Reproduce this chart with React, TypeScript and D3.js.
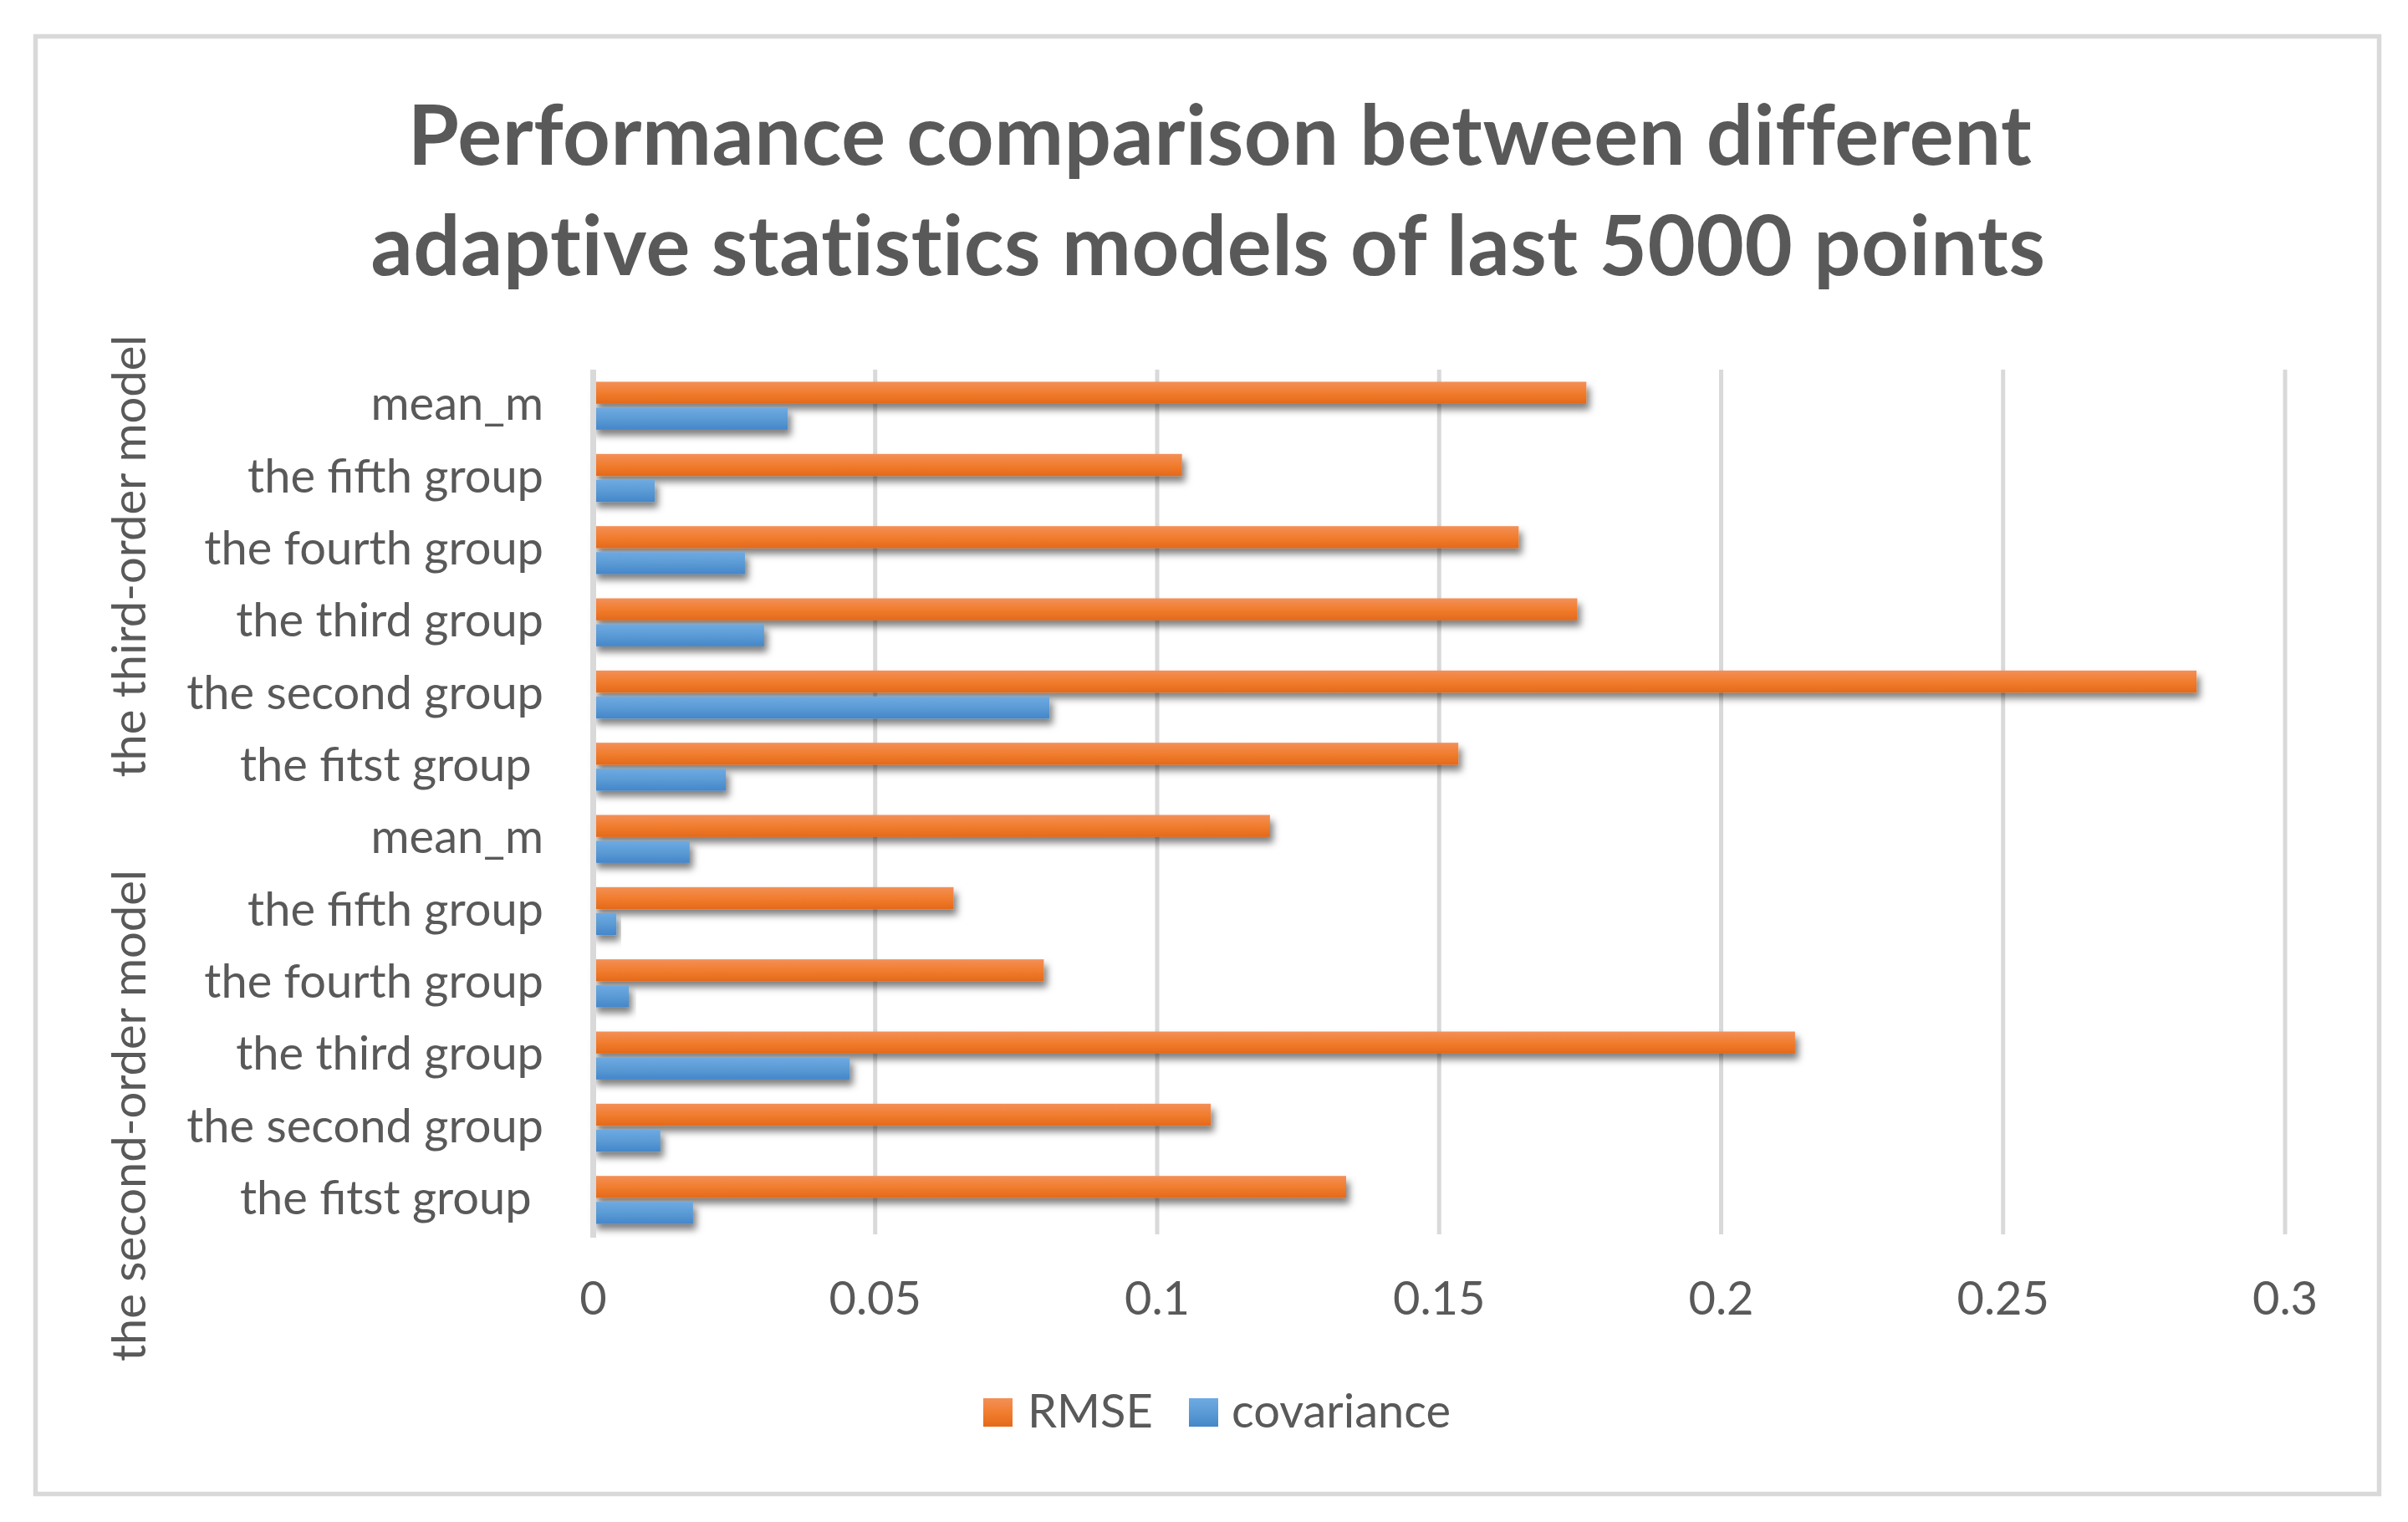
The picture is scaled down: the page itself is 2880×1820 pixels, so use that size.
import { useEffect, useRef } from 'react'
import * as d3 from 'd3'

// Category labels, top to bottom as drawn
const CATEGORIES = [
  'mean_m',
  'the fifth group',
  'the fourth group',
  'the third group',
  'the second group',
  'the fitst group ',
  'mean_m',
  'the fifth group',
  'the fourth group',
  'the third group',
  'the second group',
  'the fitst group ',
]

// Outer category groups (first covers rows 0-5, second rows 6-11)
const GROUPS = ['the third-order model', 'the second-order model']

const RMSE = [0.1761, 0.1044, 0.1641, 0.1745, 0.2843, 0.1534, 0.12, 0.0639, 0.0799, 0.2131, 0.1095, 0.1335]
const COVARIANCE = [0.0345, 0.0109, 0.0269, 0.0303, 0.0809, 0.0235, 0.0171, 0.0041, 0.0063, 0.0455, 0.0119, 0.0177]

const X_TICKS = [0, 0.05, 0.1, 0.15, 0.2, 0.25, 0.3]
const X_TICK_LABELS = ['0', '0.05', '0.1', '0.15', '0.2', '0.25', '0.3']

const SERIES = [
  { key: 'rmse', label: 'RMSE', values: RMSE, grad: 'gradOrange' },
  { key: 'cov', label: 'covariance', values: COVARIANCE, grad: 'gradBlue' },
]

const TEXT = '#595959'
const GRID = '#d9d9d9'
const FONT = 'Lato, "Open Sans", sans-serif'

const W = 2880
const H = 1820

const App = () => {
  const svgRef = useRef<SVGSVGElement>(null)

  useEffect(() => {
    if (!svgRef.current) return
    const svg = d3.select(svgRef.current)
    svg.selectAll('*').remove()

    const defs = svg.append('defs')
    const mkGrad = (id: string, stops: string[]) => {
      const g = defs.append('linearGradient').attr('id', id)
        .attr('x1', 0).attr('y1', 0).attr('x2', 0).attr('y2', 1)
      stops.forEach((c, i) => {
        g.append('stop').attr('offset', `${(i / (stops.length - 1)) * 100}%`).attr('stop-color', c)
      })
    }
    mkGrad('gradOrange', ['#f39058', '#f17d2e', '#e4691a'])
    mkGrad('gradBlue', ['#6eaae2', '#5b9bd5', '#4486c9'])

    const filter = defs.append('filter').attr('id', 'shadow')
      .attr('x', '-10%').attr('y', '-50%').attr('width', '130%').attr('height', '250%')
    filter.append('feDropShadow')
      .attr('dx', 4).attr('dy', 7).attr('stdDeviation', 4.5)
      .attr('flood-color', '#000').attr('flood-opacity', 0.5)

    // chart background + border
    svg.append('rect')
      .attr('x', 42.5).attr('y', 43.5)
      .attr('width', 2803).attr('height', 1743)
      .attr('fill', '#fff')
      .attr('stroke', GRID).attr('stroke-width', 5.5)

    // title
    const title = svg.append('text')
      .attr('text-anchor', 'middle')
      .attr('font-family', FONT)
      .attr('font-weight', 'bold')
      .attr('font-size', 99)
      .attr('letter-spacing', 0.6)
      .attr('fill', TEXT)
    title.append('tspan').attr('x', 1459).attr('y', 197).text('Performance comparison between different')
    title.append('tspan').attr('x', 1445).attr('y', 329).text('adaptive statistics models of last 5000 points')

    const plotTop = 442
    const plotBottom = 1478

    const x = d3.scaleLinear().domain([0, 0.3]).range([709.5, 2733])
    const y = d3.scaleBand<number>().domain(d3.range(CATEGORIES.length)).range([plotTop, plotBottom])
    const sub = d3.scaleBand<string>()
      .domain(SERIES.map(s => s.key))
      .range([14.5, y.bandwidth() - 14.5])
      .paddingInner(0.152)

    // vertical gridlines
    svg.append('g')
      .selectAll('line')
      .data(X_TICKS.slice(1))
      .enter()
      .append('line')
      .attr('x1', d => x(d)).attr('x2', d => x(d))
      .attr('y1', plotTop).attr('y2', plotBottom - 2)
      .attr('stroke', GRID).attr('stroke-width', 5)

    // bars
    SERIES.forEach(s => {
      svg.append('g')
        .selectAll('rect')
        .data(s.values)
        .enter()
        .append('rect')
        .attr('x', x(0))
        .attr('y', (d, i) => (y(i) as number) + (sub(s.key) as number))
        .attr('width', d => x(d) - x(0))
        .attr('height', sub.bandwidth())
        .attr('fill', `url(#${s.grad})`)
        .attr('filter', 'url(#shadow)')
    })

    // category axis line
    svg.append('line')
      .attr('x1', x(0)).attr('x2', x(0))
      .attr('y1', plotTop).attr('y2', plotBottom + 2)
      .attr('stroke', GRID).attr('stroke-width', 7)

    // category labels
    svg.append('g')
      .selectAll('text')
      .data(CATEGORIES)
      .enter()
      .append('text')
      .attr('x', 650)
      .attr('y', (d, i) => (y(i) as number) + y.bandwidth() / 2 + 17)
      .attr('text-anchor', 'end')
      .attr('font-family', FONT)
      .attr('font-size', 56)
      .attr('fill', TEXT)
      .style('white-space', 'pre')
      .text(d => d)

    // outer group labels (rotated)
    const groupCenters = [665, 1334]
    GROUPS.forEach((g, i) => {
      svg.append('text')
        .attr('transform', `translate(174, ${groupCenters[i]}) rotate(-90)`)
        .attr('text-anchor', 'middle')
        .attr('font-family', FONT)
        .attr('font-size', 56)
        .attr('fill', TEXT)
        .text(g)
    })

    // x tick labels
    svg.append('g')
      .selectAll('text')
      .data(X_TICKS)
      .enter()
      .append('text')
      .attr('x', d => x(d))
      .attr('y', 1572)
      .attr('text-anchor', 'middle')
      .attr('font-family', FONT)
      .attr('font-size', 56)
      .attr('fill', TEXT)
      .text((d, i) => X_TICK_LABELS[i])

    // legend
    const legendPos = [
      { sx: 1176, tx: 1229 },
      { sx: 1422, tx: 1473 },
    ]
    SERIES.forEach((s, i) => {
      svg.append('rect')
        .attr('x', legendPos[i].sx).attr('y', 1672)
        .attr('width', 35).attr('height', 34)
        .attr('fill', `url(#${s.grad})`)
      svg.append('text')
        .attr('x', legendPos[i].tx).attr('y', 1707)
        .attr('font-family', FONT)
        .attr('font-size', 56)
        .attr('fill', TEXT)
        .text(s.label)
    })
  }, [])

  return (
    <svg
      ref={svgRef}
      viewBox={`0 0 ${W} ${H}`}
      style={{ position: 'fixed', top: 0, left: 0, width: '100vw', height: '100vh', background: '#fff' }}
    ></svg>
  )
}

export default App
